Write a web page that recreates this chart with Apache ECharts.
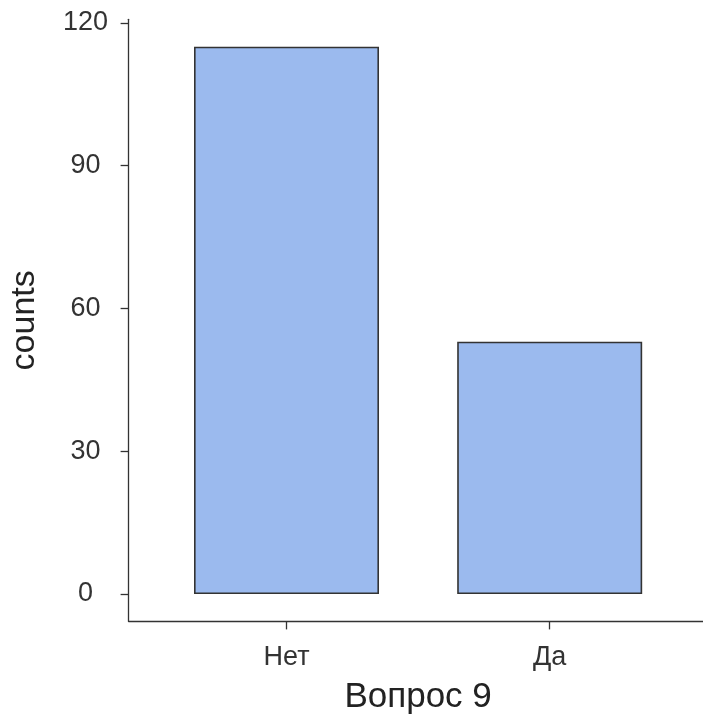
<!DOCTYPE html>
<html>
<head>
<meta charset="utf-8">
<script src="https://cdn.jsdelivr.net/npm/echarts@6/dist/echarts.min.js"></script>
<style>html,body{margin:0;padding:0;background:#fff;}#c{width:703px;height:723px;}</style>
</head>
<body>
<div id="c"></div>
<script>
const categories = ['Нет', 'Да'];
const counts = [115, 53];
const yTicks = [0, 30, 60, 90, 120];
const xTitle = 'Вопрос 9';
const yTitle = 'counts';

const chart = echarts.init(document.getElementById('c'), null, {renderer: 'canvas'});
const font = 'Liberation Sans';
const catPos = categories.map((c, i) => i + 1);
chart.setOption({
  animation: false,
  backgroundColor: '#ffffff',
  grid: {left: 128.6, right: -4.6, top: 19.3, bottom: 101.6, containLabel: false, outerBoundsMode: 'none'},
  xAxis: {
    type: 'value', min: 0.4, max: 2.6,
    splitLine: {show: false},
    axisLine: {show: true, onZero: false, lineStyle: {color: '#333', width: 1.3}},
    axisTick: {show: true, customValues: catPos, length: 8, lineStyle: {color: '#333', width: 1.3}},
    axisLabel: {customValues: catPos, formatter: v => categories[Math.round(v) - 1], margin: 23,
      fontFamily: font, fontSize: 27, color: '#333'},
    name: xTitle, nameLocation: 'middle', nameGap: 58,
    nameTextStyle: {fontFamily: font, fontSize: 35, color: '#222'}
  },
  yAxis: {
    type: 'value', min: -5.75, max: 120.75,
    splitLine: {show: false},
    axisLine: {show: true, onZero: false, lineStyle: {color: '#333', width: 1.3}},
    axisTick: {show: true, customValues: yTicks, length: 8, lineStyle: {color: '#333', width: 1.3}},
    axisLabel: {customValues: yTicks, margin: 43, align: 'center',
      fontFamily: font, fontSize: 27, color: '#333'},
    name: yTitle, nameLocation: 'middle', nameGap: 87, nameRotate: 90,
    nameTextStyle: {fontFamily: font, fontSize: 34, color: '#222'}
  },
  series: [{
    type: 'bar',
    data: categories.map((c, i) => [catPos[i], counts[i]]),
    barWidth: 185,
    itemStyle: {color: '#9BBAEE', borderColor: '#333', borderWidth: 1.6}
  }]
});
</script>
</body>
</html>
